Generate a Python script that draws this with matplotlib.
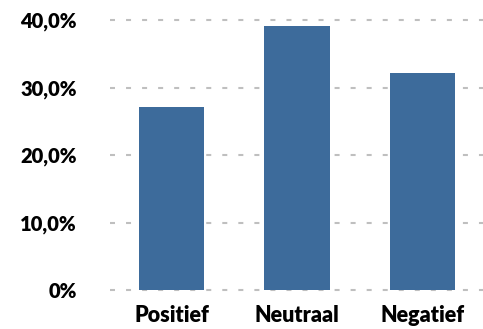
import matplotlib.pyplot as plt
from matplotlib.ticker import FuncFormatter

# sentiment shares in percent
categories = ['Positief', 'Neutraal', 'Negatief']
shares = [27.1, 39.1, 32.1]
yticks = [0, 10, 20, 30, 40]

plt.rcParams['font.family'] = ['Lato', 'DejaVu Sans']

fig = plt.figure(figsize=(4.83, 3.29), dpi=100)
ax = fig.add_axes([110 / 483, 1 - 290 / 329, 1 - 110 / 483, 270 / 329])

x = range(len(categories))
ax.bar(x, shares, width=0.52, color='#3D6B9B', zorder=2)

ax.set_ylim(0, 40)
ax.set_xlim(-0.49, 2.482)
ax.set_yticks(yticks)
ax.yaxis.set_major_formatter(FuncFormatter(lambda v, _: '0%' if v == 0 else f'{v:.1f}%'.replace('.', ',')))
ax.set_xticks(list(x))
ax.set_xticklabels(categories)

for v in yticks:
    ax.axhline(v, color='#BFBFBF', lw=1.5, dashes=(2.4, 5.3), zorder=1, clip_on=False)

for s in ax.spines.values():
    s.set_visible(False)
ax.tick_params(length=0)
ax.tick_params(axis='y', pad=24, labelsize=14.5)
ax.tick_params(axis='x', pad=11, labelsize=15.5)
for lbl in ax.get_xticklabels() + ax.get_yticklabels():
    lbl.set_fontweight('heavy')

fig.savefig('out.png', dpi=100)
